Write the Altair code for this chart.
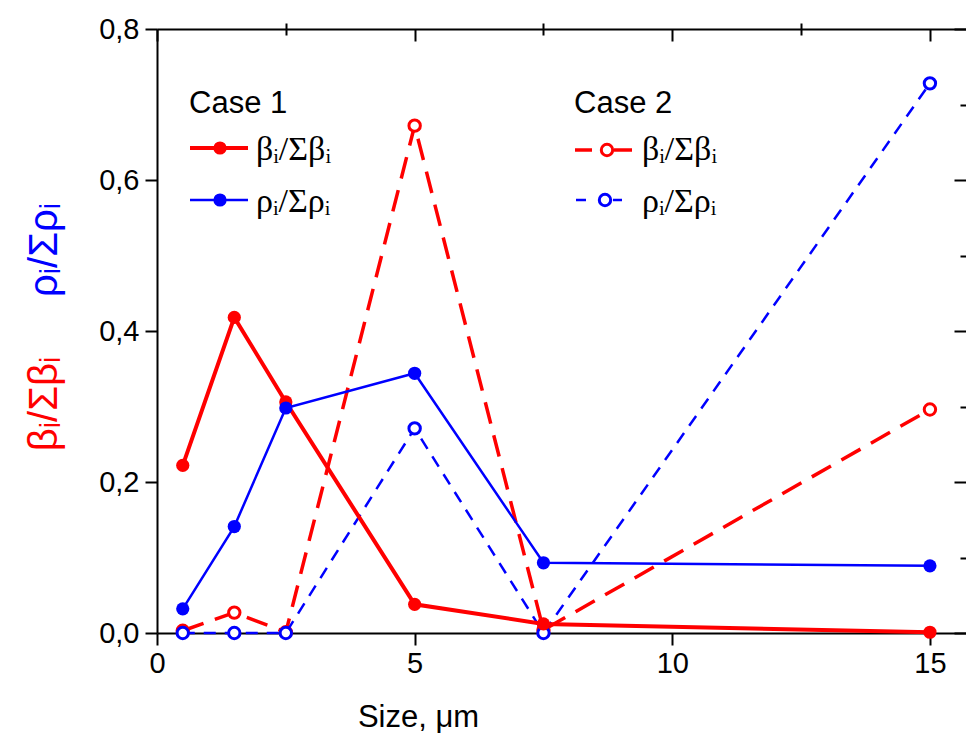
import altair as alt
import pandas as pd

# ---- data ----
sizes = [0.5, 1.5, 2.5, 5, 7.5, 15]
beta_case1 = [0.222, 0.418, 0.306, 0.038, 0.012, 0.001]
rho_case1 = [0.032, 0.141, 0.298, 0.344, 0.093, 0.089]
beta_case2 = [0.003, 0.027, 0.001, 0.672, 0.004, 0.296]
rho_case2 = [0.0, 0.0, 0.0, 0.271, 0.0, 0.728]

x_major = [0, 5, 10, 15]
x_minor = [2.5, 7.5, 12.5]
y_major = [0.0, 0.2, 0.4, 0.6, 0.8]
y_minor = [0.1, 0.3, 0.5, 0.7]

RED = "#ff0000"
BLUE = "#0000ff"
SANS = "Liberation Sans"
SERIF = "Liberation Serif"

X_MAX = 15.7
W, H = 809, 604
PX, PY = 157, 29  # page position of plot origin (for annotations)

xs = alt.Scale(domain=[0, X_MAX], nice=False, zero=False)
ys = alt.Scale(domain=[0, 0.8], nice=False, zero=False)

common = dict(grid=False, tickColor="black", domainColor="black", tickWidth=2,
              domainWidth=2, labelColor="black", titleColor="black")

main_x = alt.Axis(values=x_major, tickSize=12, labelFont=SANS, labelFontSize=29,
                  labelPadding=4, labelFlush=False, title="Size, μm", titleFont=SANS,
                  titleFontSize=31, titleFontWeight="normal", titlePadding=24,
                  titleX=261, **common)
main_y = alt.Axis(values=y_major, tickSize=12, labelFont=SANS, labelFontSize=29,
                  labelPadding=6, labelExpr="replace(format(datum.value, '.1f'), '.', ',')",
                  title=None, **common)

one = pd.DataFrame({"size": [0.0], "v": [0.0]})


def axis_layer(ax_x, ax_y):
    return alt.Chart(one).mark_point(opacity=0).encode(
        x=alt.X("size:Q", scale=xs, axis=ax_x),
        y=alt.Y("v:Q", scale=ys, axis=ax_y),
    )


def series(vals, color, width, dash, filled, msize):
    df = pd.DataFrame({"size": sizes, "v": vals})
    base = alt.Chart(df)
    enc = dict(x=alt.X("size:Q", scale=xs, axis=None), y=alt.Y("v:Q", scale=ys, axis=None))
    line_kw = dict(color=color, strokeWidth=width)
    if dash:
        line_kw["strokeDash"] = dash
    line = base.mark_line(**line_kw).encode(**enc)
    if filled:
        pts = base.mark_point(shape="circle", filled=True, color=color, size=msize, opacity=1)
    else:
        pts = base.mark_point(shape="circle", filled=False, fill="white", fillOpacity=1,
                              stroke=color, strokeWidth=3, size=msize, opacity=1)
    pts = pts.encode(**enc)
    return [line, pts]


no_lab = dict(labels=False, title=None, grid=False, tickColor="black", tickWidth=2)

ax_main = axis_layer(main_x, main_y)
ax_minor = axis_layer(
    alt.Axis(values=x_minor, tickSize=6, domain=False, **no_lab),
    alt.Axis(values=y_minor, tickSize=6, domain=False, **no_lab),
)
ax_frame = axis_layer(
    alt.Axis(orient="top", ticks=False, domain=True, domainColor="black", domainWidth=2,
             labels=False, title=None, grid=False),
    alt.Axis(orient="right", values=y_major, tickSize=12, offset=-12, domain=False, **no_lab),
)
ax_in_major = axis_layer(
    alt.Axis(orient="top", values=x_major, tickSize=12, offset=-12, domain=False, **no_lab),
    alt.Axis(orient="right", values=y_minor, tickSize=6, offset=-6, domain=False, **no_lab),
)
ax_in_minor = axis_layer(
    alt.Axis(orient="top", values=x_minor, tickSize=6, offset=-6, domain=False, **no_lab),
    None,
)

FILLED_SIZE = 175
OPEN_SIZE = 130
s_b2 = series(beta_case2, RED, 3.5, [22, 12], False, OPEN_SIZE)
s_r2 = series(rho_case2, BLUE, 2.5, [12, 9], False, OPEN_SIZE)
s_b1 = series(beta_case1, RED, 4, None, True, FILLED_SIZE)
s_r1 = series(rho_case1, BLUE, 2.5, None, True, FILLED_SIZE)


def txt(text, px, py, color="black", font=SANS, size=22, angle=None, align="left"):
    kw = dict(text=text, color=color, font=font, fontSize=size, align=align, baseline="middle")
    if angle is not None:
        kw["angle"] = angle
    return alt.Chart(one).mark_text(**kw).encode(x=alt.value(px - PX), y=alt.value(py - PY))


def leg_line(x1, x2, py, color, width, dash=None):
    kw = dict(color=color, strokeWidth=width)
    if dash:
        kw["strokeDash"] = dash
    return alt.Chart(one).mark_rule(**kw).encode(
        x=alt.value(x1 - PX), x2=alt.value(x2 - PX), y=alt.value(py - PY))


def leg_pt(px, py, color, filled, msize):
    if filled:
        m = alt.Chart(one).mark_point(shape="circle", filled=True, color=color, size=msize, opacity=1)
    else:
        m = alt.Chart(one).mark_point(shape="circle", filled=False, fill="white", fillOpacity=1,
                                      stroke=color, strokeWidth=3, size=msize, opacity=1)
    return m.encode(x=alt.value(px - PX), y=alt.value(py - PY))


LEG = 34
legend = [
    txt("Case 1", 189, 104, size=31),
    leg_line(190, 248, 148, RED, 4), leg_pt(220, 148, RED, True, FILLED_SIZE),
    txt("βᵢ/Σβᵢ", 256, 150, font=SERIF, size=LEG),
    leg_line(190, 248, 200, BLUE, 2.5), leg_pt(220, 200, BLUE, True, FILLED_SIZE),
    txt("ρᵢ/Σρᵢ", 256, 202, font=SERIF, size=LEG),
    txt("Case 2", 574, 104, size=31),
    leg_line(575, 592, 150, RED, 3.5), leg_line(614, 632, 150, RED, 3.5),
    leg_pt(607, 150, RED, False, OPEN_SIZE),
    txt("βᵢ/Σβᵢ", 642, 150, font=SERIF, size=LEG),
    leg_line(576, 586, 200, BLUE, 2.5), leg_line(613, 622, 200, BLUE, 2.5),
    leg_pt(605, 200, BLUE, False, OPEN_SIZE),
    txt("ρᵢ/Σρᵢ", 642, 202, font=SERIF, size=LEG),
    txt("βᵢ/Σβᵢ", 45, 404, color=RED, size=40, angle=270, align="center"),
    txt("ρᵢ/Σρᵢ", 45, 250, color=BLUE, size=40, angle=270, align="center"),
]

chart = alt.layer(
    ax_main, ax_minor, ax_frame, ax_in_major, ax_in_minor,
    *s_b2, *s_r2, *s_b1, *s_r1,
    *legend,
).resolve_axis(x="independent", y="independent").properties(
    width=W, height=H,
    autosize=alt.AutoSizeParams(type="none"),
    padding={"left": 149, "top": 21, "right": 0, "bottom": 100},
    background="white",
).configure_view(stroke=None)

chart.save("out.html", embed_options={"renderer": "svg", "actions": False})
